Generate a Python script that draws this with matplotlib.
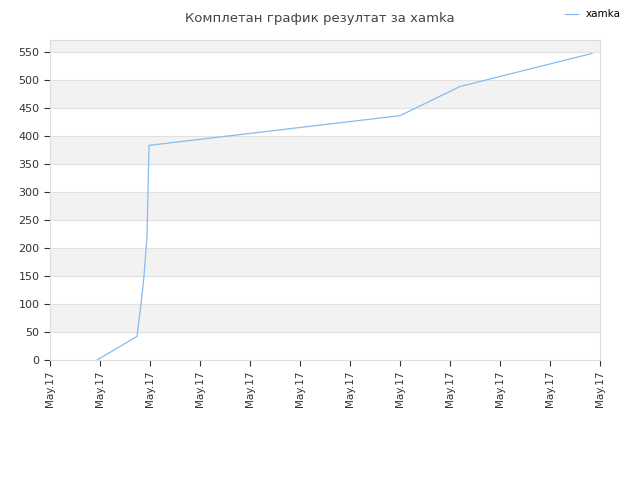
import matplotlib
matplotlib.use("Agg")
import matplotlib.pyplot as plt

x_vals = [0.94, 1.74, 1.82, 1.88, 1.94, 1.96, 1.98, 7.0, 8.2, 10.84]
y_vals = [0, 42, 100, 150, 220, 300, 383, 436, 488, 547]
tick_labels = ["May.17"] * 12
series_name = "xamka"
title = "Комплетан график резултат за xamka"

fig = plt.figure(figsize=(6.4, 4.8), dpi=100)
ax = fig.add_axes([50/640, 1-360/480, 550/640, 320/480])
ymax = 571
for lo in range(50, 600, 100):
    ax.axhspan(lo, min(lo+50, ymax), color="#f2f2f2", zorder=0, lw=0)
for yv in range(50, 600, 50):
    ax.axhline(yv, color="#e0e0e0", lw=0.8, zorder=1)
ax.plot(x_vals, y_vals, color="#88bbee", lw=0.9, label=series_name, zorder=3)
ax.set_xlim(0, 11)
ax.set_ylim(0, ymax)
ax.set_xticks(range(12))
ax.set_xticklabels(tick_labels, rotation=90, fontsize=7.5, color="#333333")
ax.set_yticks(range(0, 600, 50))
ax.tick_params(axis="y", labelsize=8, colors="#333333", length=4)
ax.tick_params(axis="x", length=4, colors="#333333")
for s in ax.spines.values():
    s.set_color("#dddddd")
fig.text(0.5, 0.975, title, ha="center", va="top", fontsize=9.5, color="#444444")
fig.legend(loc="upper right", bbox_to_anchor=(0.985, 1.0), frameon=False, fontsize=7.5,
           handlelength=1.2)
fig.savefig("out.png", dpi=100)
